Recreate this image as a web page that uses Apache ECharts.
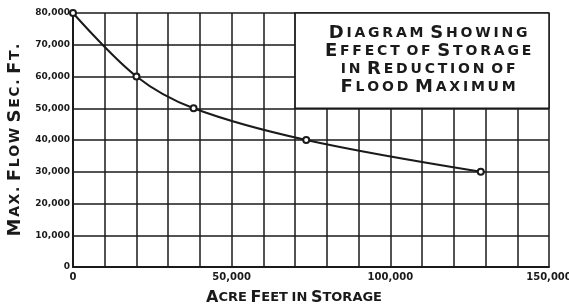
<!DOCTYPE html>
<html>
<head>
<meta charset="utf-8">
<script src="https://cdn.jsdelivr.net/npm/echarts@6/dist/echarts.min.js"></script>
<style>
  html, body { margin: 0; padding: 0; background: #fff; }
  #main { width: 569px; height: 306px; }
</style>
</head>
<body>
<div id="main"></div>
<script>
// acre feet in storage vs max flow (sec. ft.)
const storage = [0, 20000, 38000, 73500, 128500];
const flow = [80000, 60000, 50000, 40000, 30000];
const xLabelsShown = [0, 50000, 100000, 150000];
const titleLines = ['Diagram Showing', 'Effect of Storage', 'in Reduction of', 'Flood Maximum'];
const xTitle = 'Acre Feet in Storage';
const yTitle = 'Max. Flow Sec. Ft.';

// fake small caps with rich text: capitals big, the rest small
function smallCaps(str) {
  let out = '';
  for (const ch of str) {
    if (ch === ' ') out += '{sp| }';
    else if (ch === ch.toUpperCase() && ch !== ch.toLowerCase()) out += '{b|' + ch + '}';
    else out += '{s|' + ch.toUpperCase() + '}';
  }
  return out;
}

function commas(v) {
  return String(v).replace(/\B(?=(\d{3})+(?!\d))/g, ',');
}

// gap = extra space each side of a letter (hand lettering is spaced out)
function capsRich(big, small, lh, gap) {
  const pad = [0, gap, 0, gap];
  return {
    b: { fontSize: big, fontWeight: 'bold', color: ink, fontFamily: font, lineHeight: lh, padding: pad },
    s: { fontSize: small, fontWeight: 'bold', color: ink, fontFamily: font, lineHeight: lh, padding: pad },
    sp: { fontSize: small, lineHeight: lh }
  };
}

const ink = '#1a1a1a';
const font = 'DejaVu Sans';

const chart = echarts.init(document.getElementById('main'));

const option = {
  backgroundColor: '#fff',
  animation: false,
  grid: { left: 73, right: 20, top: 13, bottom: 39, containLabel: false, outerBoundsMode: 'none' },
  xAxis: {
    type: 'value',
    min: 0,
    max: 150000,
    interval: 10000,
    name: smallCaps(xTitle),
    nameLocation: 'middle',
    nameGap: 22,
    nameTextStyle: {
      padding: [0, 34, 0, 0],
      rich: capsRich(16, 13, 18, 0)
    },
    axisLine: { lineStyle: { color: ink, width: 2 } },
    axisTick: { show: false },
    splitLine: { lineStyle: { color: ink, width: 1.5 } },
    axisLabel: {
      color: ink,
      fontSize: 10,
      fontWeight: 'bold',
      fontFamily: font,
      margin: 5,
      formatter: v => xLabelsShown.includes(v) ? commas(v) : ''
    }
  },
  yAxis: {
    type: 'value',
    min: 0,
    max: 80000,
    interval: 10000,
    name: smallCaps(yTitle),
    nameLocation: 'middle',
    nameGap: 48,
    nameRotate: 90,
    nameTextStyle: {
      rich: capsRich(18, 14, 20, 0.8)
    },
    axisLine: { show: true, lineStyle: { color: ink, width: 2 } },
    axisTick: { show: false },
    splitLine: { lineStyle: { color: ink, width: 1.5 } },
    axisLabel: {
      color: ink,
      fontSize: 9,
      fontWeight: 'bold',
      fontFamily: font,
      margin: 3,
      formatter: v => commas(v)
    }
  },
  series: [
    {
      type: 'line',
      data: storage.map((x, i) => [x, flow[i]]),
      smooth: 0.35,
      symbol: 'emptyCircle',
      symbolSize: 6,
      lineStyle: { color: ink, width: 2 },
      itemStyle: { color: ink, borderWidth: 1.5 },
      z: 5,
      markArea: {
        silent: true,
        itemStyle: { color: '#fff', borderColor: ink, borderWidth: 1.5 },
        label: {
          position: 'inside',
          align: 'center',
          offset: [6, 0],
          formatter: titleLines.map(smallCaps).join('\n'),
          rich: capsRich(18, 14, 18, 1.4)
        },
        data: [[{ coord: [70000, 80000] }, { coord: [150000, 50000] }]]
      }
    }
  ]
};

chart.setOption(option);
</script>
</body>
</html>
